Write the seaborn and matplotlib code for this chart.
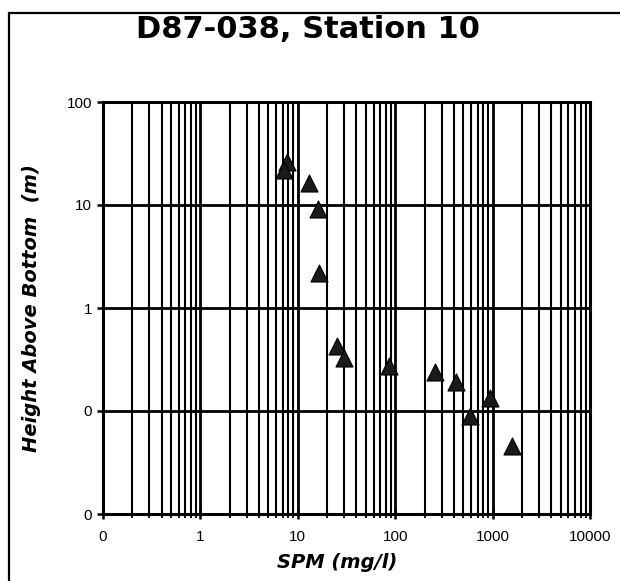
import matplotlib
matplotlib.use("Agg")
import matplotlib.pyplot as plt
import seaborn as sns
import pandas as pd
from matplotlib.ticker import FixedLocator, FixedFormatter, NullFormatter, LogLocator
from matplotlib.patches import Rectangle

# ---- data ----
spm = [7.8, 7.2, 13.1, 16.2, 16.6, 25.2, 30.0, 87.0, 254.0, 425.0, 583.0, 938.0, 1570.0]
height = [26.2, 21.8, 16.2, 9.2, 2.2, 0.43, 0.33, 0.275, 0.237, 0.19, 0.09, 0.135, 0.046]

x_ticks = [0.1, 1, 10, 100, 1000, 10000]
x_tick_labels = ["0", "1", "10", "100", "1000", "10000"]
y_ticks = [0.01, 0.1, 1, 10, 100]
y_tick_labels = ["0", "0", "1", "10", "100"]

title = "D87-038, Station 10"
x_label = "SPM (mg/l)"
y_label = "Height Above Bottom  (m)"

df = pd.DataFrame({"SPM": spm, "Height": height})

sns.set_theme(style="white")
plt.rcParams["font.family"] = ["Liberation Sans", "DejaVu Sans"]

W, H = 620, 581
fig = plt.figure(figsize=(6.2, 5.81), dpi=100)
L, R, T, B = 103, 590, 102, 514
ax = fig.add_axes([L / W, 1 - B / H, (R - L) / W, (B - T) / H])

ax.set_xscale("log")
ax.set_yscale("log")
ax.set_xlim(0.1, 10000)
ax.set_ylim(0.01, 100)

ax.xaxis.set_major_locator(FixedLocator(x_ticks))
ax.xaxis.set_major_formatter(FixedFormatter(x_tick_labels))
ax.xaxis.set_minor_locator(LogLocator(base=10, subs=range(2, 10), numticks=50))
ax.xaxis.set_minor_formatter(NullFormatter())
ax.yaxis.set_major_locator(FixedLocator(y_ticks))
ax.yaxis.set_major_formatter(FixedFormatter(y_tick_labels))
ax.yaxis.set_minor_locator(FixedLocator([]))

ax.grid(True, which="major", axis="both", color="black", linewidth=2.0)
ax.grid(True, which="minor", axis="x", color="black", linewidth=1.5)
ax.set_axisbelow(True)

sns.scatterplot(data=df, x="SPM", y="Height", marker="^", s=150,
                color="#1a1a1a", edgecolor="black", linewidth=0.8, ax=ax,
                zorder=5, clip_on=False)

for sp in ax.spines.values():
    sp.set_color("black")
    sp.set_linewidth(2.2)

ax.tick_params(axis="x", which="major", direction="inout", length=7, width=1.8,
               color="black", labelsize=11, pad=8, bottom=True)
ax.tick_params(axis="x", which="minor", direction="inout", length=6, width=1.3,
               color="black", bottom=True)
ax.tick_params(axis="y", which="major", direction="out", length=4, width=1.8,
               color="black", labelsize=11, pad=4, left=True)
for lab in ax.get_xticklabels() + ax.get_yticklabels():
    lab.set_color("black")

ax.set_xlabel(x_label, fontsize=14, fontweight="bold", fontstyle="italic",
              color="black", family=["DejaVu Sans"])
ax.xaxis.label.set_va("center")
ax.xaxis.set_label_coords((337 - L) / (R - L), -(563 - B) / (B - T))

ax.set_ylabel(y_label, fontsize=14, fontweight="bold", fontstyle="italic",
              color="black", family=["DejaVu Sans"])
ax.yaxis.label.set_va("center")
ax.yaxis.set_label_coords((32 - L) / (R - L), 0.5)

fig.text(308 / W, 1 - 29 / H, title, fontsize=22, fontweight="bold",
         ha="center", va="center", color="black", family=["DejaVu Sans"])

# outer frame (top and left edges visible)
fig.patches.append(Rectangle((9 / W, -0.1), 1.2, 1 - 12.7 / H + 0.1,
                             transform=fig.transFigure, fill=False,
                             edgecolor="black", linewidth=1.6))

fig.savefig("out.png", dpi=100, facecolor="white")
